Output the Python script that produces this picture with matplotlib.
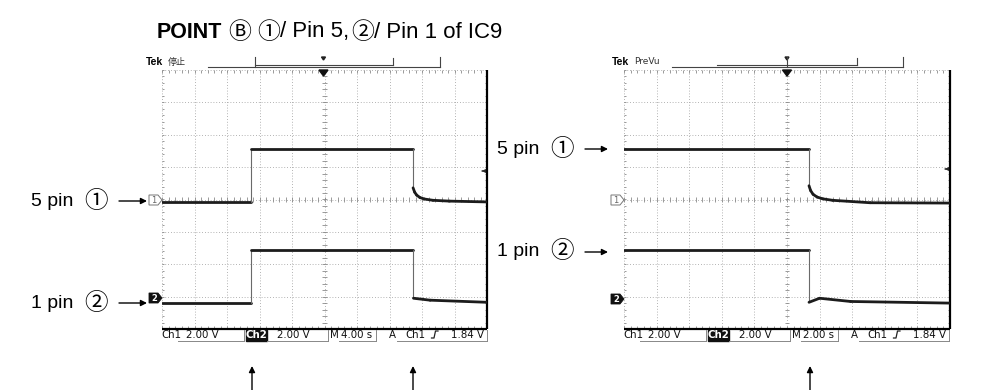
import numpy as np
import matplotlib
matplotlib.use('Agg')
import matplotlib.pyplot as plt
from matplotlib.patches import Polygon, Rectangle
from matplotlib.collections import LineCollection

# ---------------- data ----------------
VOLT_PER_DIV = 2.0
LEFT_SEC_PER_DIV = 4.0
RIGHT_SEC_PER_DIV = 2.0
CH1_OFFSET_DIV = 0.0
CH2_OFFSET_DIV = -3.05

# left capture (time in s, voltage in V)
left_ch1_t = [-20.0, -9.05, -9.05, 10.9, 10.9, 11.1, 11.35, 11.75, 12.3, 13.35, 15.4, 20.0]
left_ch1_v = [-0.15, -0.15, 3.1, 3.1, 0.72, 0.45, 0.27, 0.12, 0.03, -0.05, -0.1, -0.15]
left_ch2_t = [-20.0, -9.05, -9.05, 10.95, 10.95, 13.0, 20.0]
left_ch2_v = [-0.3, -0.3, 2.98, 2.98, 0.0, -0.12, -0.25]

# right capture
right_ch1_t = [-10.0, 1.35, 1.35, 1.45, 1.6, 1.85, 2.2, 2.8, 5.1, 10.0]
right_ch1_v = [3.1, 3.1, 0.85, 0.55, 0.32, 0.15, 0.04, -0.05, -0.2, -0.22]
right_ch2_t = [-10.0, 1.35, 1.35, 2.0, 3.9, 10.0]
right_ch2_v = [2.96, 2.96, -0.25, 0.0, -0.2, -0.3]

title_parts = ["POINT", "Ⓑ", "①", "/ Pin 5,", "②", "/ Pin 1 of IC9"]
ch_labels = ["5 pin", "1 pin"]
ch_circles = ["①", "②"]
volt_text = "2.00 V"
trig_text = "1.84 V"
left_time_text = "4.00 s"
right_time_text = "2.00 s"

# ---------------- figure ----------------
W, H = 991, 390
fig = plt.figure(figsize=(W / 100, H / 100), dpi=100)
fig.patch.set_facecolor('white')

SANS = ['Liberation Sans', 'Noto Sans CJK JP', 'DejaVu Sans']
CJK = ['Noto Sans CJK JP', 'DejaVu Sans']


def px_axes(x0, y0, x1, y1):
    return fig.add_axes([x0 / W, 1 - y1 / H, (x1 - x0) / W, (y1 - y0) / H])


def draw_scope(ax, sec_per_div, traces):
    ax.set_xlim(-5, 5)
    ax.set_ylim(-4, 4)
    ax.set_axis_off()
    dot = dict(color='#9a9a9a', lw=0.6, linestyle=(0, (1, 2.4)))
    for x in range(-5, 5):
        ax.plot([x, x], [-4, 4], **dot)
    for y in range(-3, 5):
        ax.plot([-5, 5], [y, y], **dot)
    tk = dict(color='#8a8a8a', lw=0.6)
    mx = np.arange(-5, 5.001, 0.2)
    my = np.arange(-4, 4.001, 0.2)
    segs = []
    for x in mx:
        segs.append([(x, -0.07), (x, 0.07)])
        segs.append([(x, 4), (x, 3.92)])
        segs.append([(x, -4), (x, -3.92)])
    for y in my:
        segs.append([(-0.07, y), (0.07, y)])
        segs.append([(-5, y), (-4.93, y)])
        segs.append([(5, y), (4.93, y)])
    ax.add_collection(LineCollection(segs, **tk))
    ax.plot([-5, 5], [-4, -4], color='black', lw=1.6, solid_capstyle='butt', clip_on=False)
    ax.plot([5, 5], [-4, 4], color='black', lw=1.6, solid_capstyle='butt', clip_on=False)
    for t, v, off in traces:
        xd = np.asarray(t) / sec_per_div
        yd = np.asarray(v) / VOLT_PER_DIV + off
        tsegs, widths, cols = [], [], []
        for i in range(len(xd) - 1):
            tsegs.append([(xd[i], yd[i]), (xd[i + 1], yd[i + 1])])
            vertical = abs(xd[i + 1] - xd[i]) < 1e-9
            widths.append(0.8 if vertical else 2.0)
            cols.append('#6a6a6a' if vertical else '#1c1c1c')
        ax.add_collection(LineCollection(tsegs, linewidths=widths, colors=cols,
                                         capstyle='round', joinstyle='round', zorder=5))


ax_l = px_axes(162, 70, 487, 329)
draw_scope(ax_l, LEFT_SEC_PER_DIV,
           [(left_ch1_t, left_ch1_v, CH1_OFFSET_DIV), (left_ch2_t, left_ch2_v, CH2_OFFSET_DIV)])
ax_r = px_axes(624, 70, 950, 329)
draw_scope(ax_r, RIGHT_SEC_PER_DIV,
           [(right_ch1_t, right_ch1_v, CH1_OFFSET_DIV), (right_ch2_t, right_ch2_v, CH2_OFFSET_DIV)])

# overlay in pixel coordinates
ov = fig.add_axes([0, 0, 1, 1], zorder=10)
ov.set_xlim(0, W)
ov.set_ylim(H, 0)
ov.set_axis_off()
ov.patch.set_alpha(0)

# title, pieces chained left to right
renderer = fig.canvas.get_renderer()
x = 157
base = 37.5
gaps = [6, 6, 0, 2, 0, 0]
for i, s in enumerate(title_parts):
    if i == 0:
        t = ov.text(x, base, s, fontsize=15.5, fontweight='bold', family=SANS, va='baseline', ha='left')
    elif s in ("Ⓑ", "①", "②"):
        t = ov.text(x, base + 1.5, s, fontsize=16.5, family=CJK, va='baseline', ha='left')
    else:
        t = ov.text(x, base, s, fontsize=16, family=SANS, va='baseline', ha='left')
    bb = t.get_window_extent(renderer)
    x = bb.x1 + gaps[i]


def scope_header(gx0, gxc, status, status_cjk, line_x, inner_x, bracket):
    ov.text(gx0 - 16, 62, "Tek", fontsize=7.5, fontweight='bold', family=SANS, va='center', ha='left')
    ov.text(gx0 + 6, 62, status, fontsize=6.5, family=(CJK if status_cjk else ['DejaVu Sans']),
            va='center', ha='left', color='#333')
    lc = '#444'
    ov.plot(line_x, [67, 67], color=lc, lw=0.8)
    ov.plot([line_x[1], line_x[1]], [57, 67], color=lc, lw=0.8)
    ov.plot(inner_x, [64.5, 64.5], color=lc, lw=0.8)
    ov.plot([bracket[0], bracket[0]], [57, 67], color=lc, lw=0.8)
    ov.plot([bracket[1], bracket[1]], [58, 65], color=lc, lw=0.8)
    ov.add_patch(Polygon([(gxc - 2, 57), (gxc + 2, 57), (gxc, 60)], closed=True, color='#222'))
    ov.add_patch(Polygon([(gxc - 4.5, 70), (gxc + 4.5, 70), (gxc, 76)], closed=True, color='#111'))


scope_header(162, 323.5, "停止", True, [208, 440], [255, 393], (255, 393))
scope_header(628, 787, "PreVu", False, [672, 903], [717, 857], (787, 857))


def ch_marker(x, y, num, filled):
    pts = [(x, y - 5), (x + 9, y - 5), (x + 13, y), (x + 9, y + 5), (x, y + 5)]
    if filled:
        ov.add_patch(Polygon(pts, closed=True, facecolor='#111', edgecolor='#111', lw=0.6))
        ov.text(x + 5, y + 0.3, num, fontsize=6, fontweight='bold', color='white',
                family=['DejaVu Sans'], ha='center', va='center')
    else:
        ov.add_patch(Polygon(pts, closed=True, facecolor='white', edgecolor='#777', lw=0.7))
        ov.text(x + 5, y + 0.3, num, fontsize=6, color='#666', family=['DejaVu Sans'],
                ha='center', va='center')


ch_marker(149, 200, "1", False)
ch_marker(149, 298, "2", True)
ch_marker(611, 200, "1", False)
ch_marker(611, 299, "2", True)

for xr, yr in [(486, 171), (949, 169)]:
    ov.annotate("", xy=(xr - 7, yr), xytext=(xr - 1, yr),
                arrowprops=dict(arrowstyle='-|>', color='#222', lw=0.7, mutation_scale=5))


def bottom_row(gx, time_text):
    y = 335
    fs = 7.4
    kw = dict(fontsize=fs, family=['DejaVu Sans'], va='center', color='#111')
    ov.text(gx - 1, y, "Ch1", ha='left', **kw)
    ov.text(gx + 24, y, volt_text, ha='left', **kw)
    ov.add_patch(Rectangle((gx + 84, y - 5.5), 21, 11, color='#111'))
    ov.text(gx + 94.5, y, "Ch2", ha='center', fontsize=fs, family=['DejaVu Sans'],
            va='center', color='white', fontweight='bold')
    ov.text(gx + 115, y, volt_text, ha='left', **kw)
    ov.text(gx + 168, y, "M", ha='left', **kw)
    ov.text(gx + 179, y, time_text, ha='left', **kw)
    ov.text(gx + 227, y, "A", ha='left', **kw)
    ov.text(gx + 243, y, "Ch1", ha='left', **kw)
    ov.text(gx + 322, y, trig_text, ha='right', **kw)
    sx = gx + 272
    ov.plot([sx - 2.5, sx, sx + 1.5, sx + 4], [338, 338, 331, 331], color='#222', lw=0.9)
    lc = '#888'
    ul = 340.5
    for a, b in [(gx + 16, gx + 82), (gx + 105, gx + 166), (gx + 177, gx + 214), (gx + 235, gx + 325)]:
        ov.plot([a, b], [ul, ul], color=lc, lw=0.7)
    for bx in [gx + 82, gx + 166, gx + 214, gx + 325]:
        ov.plot([bx, bx], [330, ul], color=lc, lw=0.7)


bottom_row(162, left_time_text)
bottom_row(624, right_time_text)


def side_label(xt, xa0, xa1, y, idx):
    ov.text(xt, y, ch_labels[idx], fontsize=14, family=SANS, va='center', ha='left')
    ov.text(xt + 53, y, ch_circles[idx], fontsize=17, family=CJK, va='center', ha='left')
    ov.annotate("", xy=(xa1, y), xytext=(xa0, y),
                arrowprops=dict(arrowstyle='-|>', color='black', lw=1.0, mutation_scale=9,
                                shrinkA=0, shrinkB=0))


side_label(31, 119, 147, 201, 0)
side_label(31, 119, 147, 303, 1)
side_label(497, 585, 608, 149, 0)
side_label(497, 585, 608, 252, 1)

for xa in [252, 413, 810]:
    ov.annotate("", xy=(xa, 366), xytext=(xa, 391),
                arrowprops=dict(arrowstyle='-|>', color='black', lw=1.0, mutation_scale=9,
                                shrinkA=0, shrinkB=0))

fig.savefig('out.png', dpi=100, facecolor='white')
